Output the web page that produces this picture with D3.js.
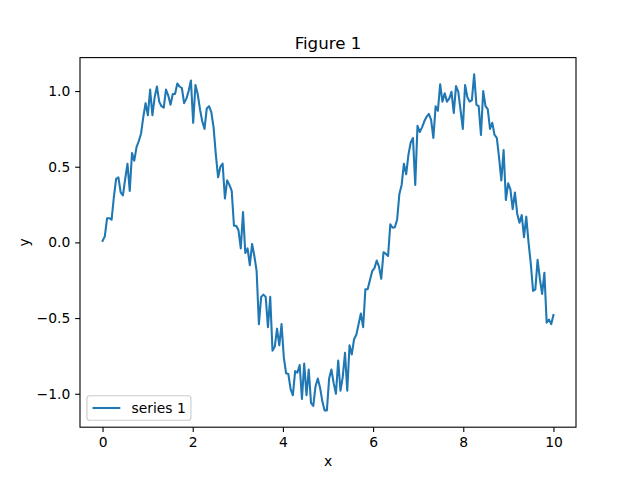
<!DOCTYPE html>
<html>
<head>
<meta charset="utf-8">
<script src="https://cdn.jsdelivr.net/npm/d3@7"></script>
<style>
  html, body { margin: 0; padding: 0; background: #fff; }
  svg { display: block; }
  text { font-family: "DejaVu Sans", sans-serif; fill: #000; }
</style>
</head>
<body>
<svg id="chart" width="640" height="480"></svg>
<script>
// ---- data ----
const title = "Figure 1";
const xLabel = "x";
const yLabel = "y";
const seriesName = "series 1";
const xStart = 0, xEnd = 10;
const yValues = [
  0.01, 0.04, 0.16, 0.16, 0.15, 0.30, 0.42, 0.43, 0.33, 0.31,
  0.42, 0.52, 0.34, 0.59, 0.54, 0.63, 0.67, 0.72, 0.83, 0.92,
  0.84, 1.01, 0.84, 0.96, 1.03, 0.93, 0.90, 0.89, 1.01, 0.97,
  0.91, 0.98, 0.98, 1.05, 1.03, 1.02, 0.92, 0.95, 1.00, 1.07,
  0.79, 1.04, 0.98, 0.88, 0.80, 0.75, 0.885, 0.90, 0.86, 0.76,
  0.58, 0.43, 0.50, 0.52, 0.29, 0.41, 0.38, 0.34, 0.11, 0.11,
  0.08, -0.04, 0.20, -0.07, -0.04, -0.15, -0.01, -0.09, -0.19, -0.54,
  -0.36, -0.345, -0.36, -0.56, -0.36, -0.715, -0.69, -0.57, -0.68, -0.54,
  -0.76, -0.865, -0.87, -0.97, -1.01, -0.85, -0.86, -0.81, -1.035, -0.80,
  -1.01, -0.84, -1.06, -1.08, -0.95, -0.90, -0.96, -1.05, -1.11, -1.11,
  -0.90, -0.84, -0.93, -1.00, -0.78, -0.98, -0.89, -0.73, -0.98, -0.68,
  -0.74, -0.64, -0.61, -0.54, -0.47, -0.56, -0.31, -0.31, -0.25, -0.19,
  -0.17, -0.12, -0.16, -0.24, -0.065, -0.075, -0.09, 0.12, 0.097, 0.10,
  0.15, 0.32, 0.38, 0.52, 0.45, 0.58, 0.66, 0.69, 0.38, 0.77,
  0.73, 0.76, 0.80, 0.83, 0.85, 0.81, 0.69, 0.90, 0.87, 1.045,
  0.93, 0.985, 0.93, 0.95, 0.995, 0.856, 1.033, 0.995, 0.874, 0.75,
  1.04, 0.96, 0.93, 0.94, 1.11, 0.91, 0.90, 0.71, 1.00, 0.90,
  0.88, 0.75, 0.79, 0.71, 0.69, 0.56, 0.41, 0.61, 0.28, 0.39,
  0.35, 0.22, 0.33, 0.19, 0.13, 0.18, 0.035, 0.17, 0.00, -0.14,
  -0.32, -0.31, -0.115, -0.24, -0.34, -0.20, -0.53, -0.51, -0.54, -0.48
];
const xTicks = [0, 2, 4, 6, 8, 10];
const yTicks = [-1.0, -0.5, 0.0, 0.5, 1.0];

// evenly spaced sampling grid
const nPts = yValues.length;
const data = yValues.map((v, i) => ({ x: xStart + (xEnd - xStart) * i / (nPts - 1), y: v }));

// ---- layout (matplotlib defaults) ----
const axL = 80, axR = 576, axT = 57.6, axB = 427.2;
const fs = 13.89;
const color = "#1f77b4";

const svg = d3.select("#chart");

const xPad = (xEnd - xStart) * 0.05;
const xScale = d3.scaleLinear().domain([xStart - xPad, xEnd + xPad]).range([axL, axR]);
const [ymin, ymax] = d3.extent(yValues);
const yPad = (ymax - ymin) * 0.05;
const yScale = d3.scaleLinear().domain([ymin - yPad, ymax + yPad]).range([axB, axT]);

const fmt = v => d3.format(".1f")(v).replace("-", "\u2212");

// axes
const tickLen = 4.86, tickPad = 4.86;
const gx = svg.append("g").attr("transform", `translate(0,${axB})`)
  .call(d3.axisBottom(xScale).tickValues(xTicks).tickFormat(d3.format("d")).tickSize(tickLen).tickPadding(tickPad));
const gy = svg.append("g").attr("transform", `translate(${axL},0)`)
  .call(d3.axisLeft(yScale).tickValues(yTicks).tickFormat(fmt).tickSize(tickLen).tickPadding(tickPad));
[gx, gy].forEach(g => {
  g.select(".domain").remove();
  g.selectAll(".tick line").attr("stroke", "#000").attr("stroke-width", 1.1);
  g.selectAll(".tick text").attr("font-family", "DejaVu Sans").attr("font-size", fs).attr("fill", "#000");
});

// line
svg.append("clipPath").attr("id", "plotclip").append("rect")
  .attr("x", axL).attr("y", axT).attr("width", axR - axL).attr("height", axB - axT);
svg.append("path")
  .datum(data)
  .attr("clip-path", "url(#plotclip)")
  .attr("fill", "none")
  .attr("stroke", color)
  .attr("stroke-width", 2.08)
  .attr("stroke-linejoin", "round")
  .attr("stroke-linecap", "square")
  .attr("d", d3.line().x(d => xScale(d.x)).y(d => yScale(d.y)));

// frame
svg.append("rect")
  .attr("x", axL).attr("y", axT).attr("width", axR - axL).attr("height", axB - axT)
  .attr("fill", "none").attr("stroke", "#000").attr("stroke-width", 1.1);

// title & labels
svg.append("text").attr("x", (axL + axR) / 2).attr("y", axT - 8.33)
  .attr("text-anchor", "middle").attr("font-size", 16.67).text(title);
svg.append("text").attr("x", (axL + axR) / 2).attr("y", 466)
  .attr("text-anchor", "middle").attr("font-size", fs).text(xLabel);
svg.append("text").attr("transform", `translate(29,${(axT + axB) / 2}) rotate(-90)`)
  .attr("text-anchor", "middle").attr("font-size", fs).text(yLabel);

// legend (lower left)
const lgX = axL + 6.95, lgB = axB - 6.95;
const lgW = 104, lgH = 24.5;
const lg = svg.append("g");
lg.append("rect")
  .attr("x", lgX).attr("y", lgB - lgH).attr("width", lgW).attr("height", lgH)
  .attr("rx", 2.8).attr("ry", 2.8)
  .attr("fill", "#fff").attr("fill-opacity", 0.8)
  .attr("stroke", "#cccccc").attr("stroke-width", 1.1);
const lgMid = lgB - lgH / 2;
lg.append("line")
  .attr("x1", lgX + 5.56).attr("x2", lgX + 5.56 + 27.8)
  .attr("y1", lgMid).attr("y2", lgMid)
  .attr("stroke", color).attr("stroke-width", 2.08);
lg.append("text")
  .attr("x", lgX + 5.56 + 27.8 + 11.1).attr("y", lgMid + 4.9)
  .attr("font-size", fs).text(seriesName);
</script>
</body>
</html>
